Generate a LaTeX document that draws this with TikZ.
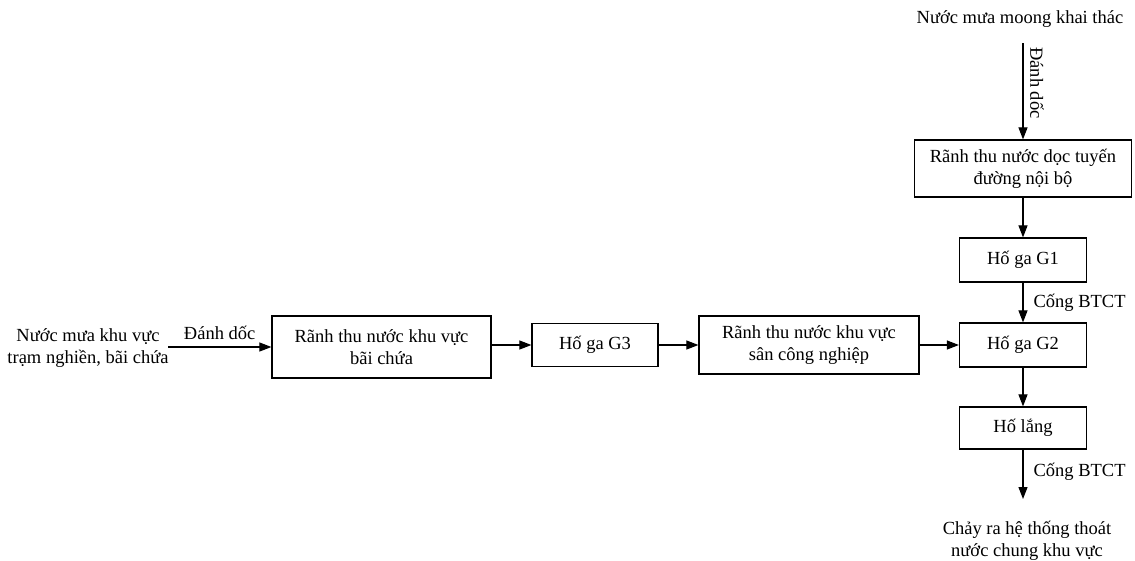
\documentclass[tikz,border=0pt]{standalone}
\usepackage{fontspec}
\setmainfont{Liberation Serif}
\usetikzlibrary{arrows.meta}
\begin{document}
\begin{tikzpicture}[x=1pt,y=-1pt,
  every node/.style={font=\fontsize{18.5}{22}\selectfont, inner sep=0pt},
  box/.style={draw, line width=1.2pt, align=center},
  txt/.style={align=center},
  flow/.style={line width=1.1pt, -{Triangle[length=12pt,width=9pt]}}]
  \useasboundingbox (0,0) rectangle (1135,560);

  % vertical chain on the right
  \node[txt] (moong) at (1020,19) {Nước mưa moong khai thác};
  \coordinate (moongend) at (1023,43);
  \node[box, minimum width=217pt, minimum height=57pt] (ranhdoc) at (1023,168.5)
    {Rãnh thu nước dọc tuyến\\đường nội bộ};
  \node[box, minimum width=127pt, minimum height=44pt] (g1) at (1023,260) {Hố ga G1};
  \node[box, minimum width=127pt, minimum height=44pt] (g2) at (1023,345) {Hố ga G2};
  \node[box, minimum width=127pt, minimum height=42pt] (lang) at (1023,428) {Hố lắng};
  \coordinate (outend) at (1023,499);
  \node[txt] (thoat) at (1027,541) {Chảy ra hệ thống thoát\\nước chung khu vực};

  % horizontal chain
  \node[txt] (nghien) at (88,348) {Nước mưa khu vực\\trạm nghiền, bãi chứa};
  \coordinate (nghienend) at (168,347);
  \node[box, minimum width=219pt, minimum height=62pt] (baichua) at (381.5,347)
    {Rãnh thu nước khu vực\\bãi chứa};
  \node[box, minimum width=126pt, minimum height=43pt] (g3) at (595,345) {Hố ga G3};
  \node[box, minimum width=220pt, minimum height=58pt] (san) at (809,345)
    {Rãnh thu nước khu vực\\sân công nghiệp};

  % connectors
  \draw[flow] (moongend) -- (ranhdoc.north);
  \node[rotate=-90] (doc1) at (1037,83) {Đánh dốc};
  \draw[flow] (ranhdoc.south) -- (g1.north);
  \draw[flow] (g1.south) -- (g2.north)
    node[midway, right=10pt, anchor=west] {Cống BTCT};
  \draw[flow] (g2.south) -- (lang.north);
  \draw[flow] (lang.south) -- (outend)
    node[pos=0.45, right=10pt, anchor=west] {Cống BTCT};

  \draw[flow] (nghienend) -- (nghienend -| baichua.west)
    node[midway, above=7pt] {Đánh dốc};
  \draw[flow] (baichua.east |- g3.west) -- (g3.west);
  \draw[flow] (g3.east) -- (san.west |- g3.east);
  \draw[flow] (san.east |- g2.west) -- (g2.west);
\end{tikzpicture}
\end{document}
